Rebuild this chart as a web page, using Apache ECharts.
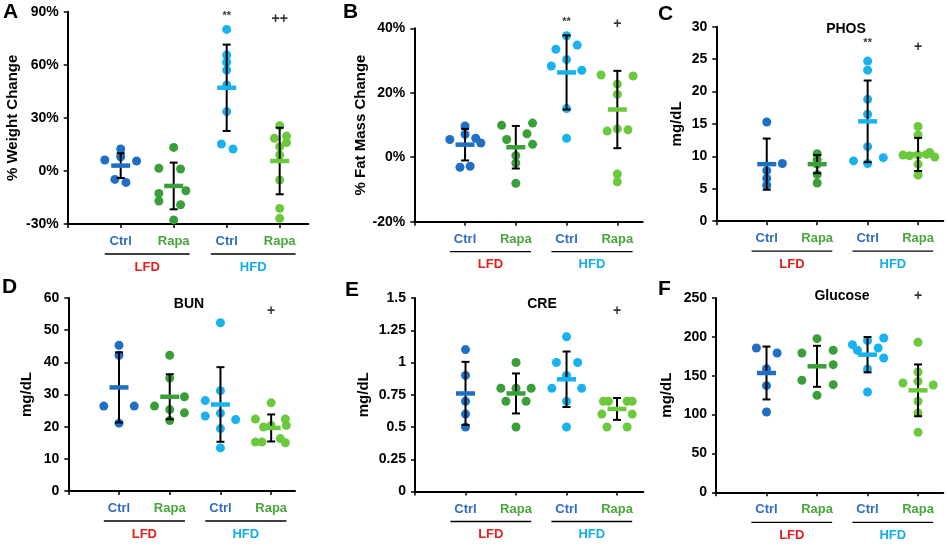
<!DOCTYPE html>
<html>
<head>
<meta charset="utf-8">
<script src="https://cdn.jsdelivr.net/npm/echarts@6/dist/echarts.min.js"></script>
<style>
  html, body { margin: 0; padding: 0; background: #fff; }
  #chart { width: 948px; height: 546px; }
</style>
</head>
<body>
<div id="chart"></div>
<script>
// groups, left to right: LFD Ctrl, LFD Rapa, HFD Ctrl, HFD Rapa
const groupNames = ['Ctrl', 'Rapa', 'Ctrl', 'Rapa'];
const dietNames = ['LFD', 'HFD'];

// A: % weight change  (jitter is the sideways offset of each dot, in category units)
const weightVals = [
  [6.2, 12.4, 5.6, 8, -4.8, -6.5],
  [13.3, 1.5, 1.1, -11.2, -12.7, -17.0, -19.1, -27.7],
  [80.0, 65.5, 61.4, 57, 48.6, 33.5, 15.2, 12.4],
  [25.6, 18.4, 19.7, 16, 13.7, 9, -5.1, -21.2, -26.8]
];
const weightJit = [
  [-0.30, 0, 0.30, 0, -0.11, 0.10],
  [0, -0.28, 0.13, 0.23, -0.28, -0.28, 0.13, 0],
  [0, 0, 0, 0, 0, 0, -0.10, 0.12],
  [0, -0.10, 0.13, 0.13, 0, 0, 0, 0, 0]
];
const weightMean = [3, -8.5, 47, 5.6];
const weightSd = [7, 13.2, 24.4, 18.8];
const weightMarks = [[3, 87.6, '**'], [4, 85.9, '++']];

// B: % fat mass change
const fatVals = [
  [5.5, 9.7, 7.1, 5.9, 4.4, -3.1, -2.8],
  [9.9, 10.6, 7.3, 5.5, 4.0, 0.5, -1.8, -8.1],
  [37.7, 33.5, 34.8, 30.3, 28.3, 27.0, 15.1, 5.9],
  [25.5, 25.2, 22.7, 19.5, 8.1, 8.8, 8.5, -5.2, -7.6]
];
const fatJit = [
  [-0.30, 0, 0, 0.21, 0.31, -0.10, 0.10],
  [-0.28, 0.33, 0.22, -0.18, 0.33, 0, 0, 0],
  [0, -0.21, 0.21, 0, -0.30, 0.30, 0, 0],
  [-0.32, 0.31, 0, 0, -0.20, 0, 0.21, 0, 0]
];
const fatMean = [3.9, 3.1, 26.3, 14.8];
const fatSd = [4.9, 6.6, 11.5, 12.0];
const fatMarks = [[3, 42, '**'], [4, 41.3, '+']];

// C: PHOS
const phosVals = [
  [15.3, 8.9, 7.8, 6.6, 5.5],
  [10.4, 9.5, 8.8, 7.2, 5.9],
  [24.7, 23.3, 18.8, 16.5, 11.5, 9.3, 9.8, 8.9],
  [14.6, 13.3, 10.2, 10.1, 10.2, 10.3, 10.6, 9.9, 8.8, 7.1]
];
const phosJit = [
  [0, 0.31, 0, 0, 0],
  [0, 0, 0, 0, 0],
  [0, 0, 0, 0, 0, -0.28, 0.31, 0],
  [0, 0, -0.30, -0.17, 0, 0.17, 0.23, 0.33, 0, 0]
];
const phosMean = [8.8, 8.8, 15.4, 10.3];
const phosSd = [3.95, 1.4, 6.3, 2.55];
const phosMarks = [[3, 27.5, '**'], [4, 26.9, '+']];

// D: BUN
const bunVals = [
  [45.3, 42.2, 26.4, 26.4, 21.1],
  [42.2, 35.1, 26.4, 29.3, 25.3, 24.3, 21.9],
  [52.3, 31.2, 28.1, 23.3, 24.2, 22.2, 19.4, 13.4],
  [27.4, 22.4, 22.4, 20.4, 19.9, 20.4, 16.3, 15.2, 15.2, 15.0]
];
const bunJit = [
  [0, 0, -0.30, 0.30, 0],
  [0, 0, -0.30, 0.29, 0, 0.29, 0],
  [0, 0, -0.30, -0.30, 0, 0.30, 0, 0],
  [0, -0.31, 0.28, 0, -0.15, 0.30, 0.18, -0.31, -0.18, 0.28]
];
const bunMean = [32.2, 29.3, 26.9, 19.6];
const bunSd = [10.9, 7.0, 11.6, 4.2];
const bunMarks = [[4, 55.9, '+']];

// E: CRE
const creVals = [
  [1.1, 0.9, 0.7, 0.6, 0.5],
  [1.0, 0.8, 0.8, 0.8, 0.7, 0.7, 0.5],
  [1.2, 1.0, 1.0, 0.9, 0.8, 0.8, 0.7, 0.5],
  [0.7, 0.7, 0.7, 0.7, 0.6, 0.6, 0.5, 0.5]
];
const creJit = [
  [0, 0, 0, 0, 0],
  [0, -0.30, 0, 0.30, -0.20, 0.20, 0],
  [0, -0.20, 0.22, 0, -0.29, 0.30, 0, 0],
  [-0.27, -0.17, 0.20, 0.30, -0.30, 0.30, -0.20, 0.20]
];
const creMean = [0.76, 0.76, 0.87, 0.64];
const creSd = [0.245, 0.155, 0.215, 0.085];
const creMarks = [[4, 1.397, '+']];

// F: Glucose
const gluVals = [
  [185.7, 179.2, 159.1, 137.2, 103.3],
  [197.7, 179.2, 182.7, 164.2, 144.1, 138.5, 124.8],
  [190, 182.7, 195.1, 185.7, 198.5, 172.8, 158.7, 129.1],
  [193, 140.7, 138.1, 154.8, 142.8, 117.1, 102.1, 77.2]
];
const gluJit = [
  [-0.20, 0.21, 0, 0, 0],
  [0, -0.30, 0.32, 0.32, -0.30, 0.32, 0],
  [-0.30, -0.20, 0, 0.21, 0.32, 0.32, 0, 0],
  [0, -0.30, 0.30, 0, 0, 0, 0, 0]
];
const gluMean = [153.5, 162.1, 177.1, 131.2];
const gluSd = [34, 26.4, 22.7, 33.3];
const gluMarks = [[4, 253, '+']];

const dotColors = ['#1f6fc5', '#3a9e3a', '#18b2ee', '#6cc83c'];
const labelColors = { Ctrl: '#2e6cc0', Rapa: '#48a63a' };
const dietColors = ['#e3211c', '#13aee8'];
const FONT = '"Liberation Sans", Arial, sans-serif';

const panels = [
  { letter: 'A', at: [3, 2], vals: weightVals, jit: weightJit, mean: weightMean, sd: weightSd, marks: weightMarks,
    min: -30, max: 90, step: 30, pct: true, name: '% Weight Change', nameGap: 47,
    grid: { left: 67.7, top: 11.7, width: 240.6, height: 212.3 }, xMax: 4.54 },
  { letter: 'B', at: [343, 2], vals: fatVals, jit: fatJit, mean: fatMean, sd: fatSd, marks: fatMarks,
    min: -20, max: 40, step: 20, pct: true, name: '% Fat Mass Change', nameGap: 44,
    grid: { left: 414.3, top: 28.3, width: 228.4, height: 193.4 }, xMax: 4.5 },
  { letter: 'C', at: [658, 4], vals: phosVals, jit: phosJit, mean: phosMean, sd: phosSd, marks: phosMarks,
    min: 0, max: 30, step: 5, name: 'mg/dL', nameGap: 32, title: 'PHOS', titleAt: [846, 29],
    grid: { left: 716.3, top: 26.7, width: 227, height: 194.5 }, xMax: 4.5 },
  { letter: 'D', at: [2, 277], vals: bunVals, jit: bunJit, mean: bunMean, sd: bunSd, marks: bunMarks,
    min: 0, max: 60, step: 10, name: 'mg/dL', nameGap: 34, title: 'BUN', titleAt: [189, 304],
    grid: { left: 68.3, top: 298, width: 226.7, height: 193 }, xMax: 4.47 },
  { letter: 'E', at: [345, 280], vals: creVals, jit: creJit, mean: creMean, sd: creSd, marks: creMarks,
    min: 0, max: 1.5, step: 0.25, name: 'mg/dL', nameGap: 44, title: 'CRE', titleAt: [542, 304],
    grid: { left: 415, top: 298, width: 228.3, height: 193.5 }, xMax: 4.52 },
  { letter: 'F', at: [658, 279], vals: gluVals, jit: gluJit, mean: gluMean, sd: gluSd, marks: gluMarks,
    min: 0, max: 250, step: 50, name: 'mg/dL', nameGap: 42, title: 'Glucose', titleAt: [842, 296],
    grid: { left: 716, top: 298, width: 227.3, height: 194.3 }, xMax: 4.5 }
];

const chart = echarts.init(document.getElementById('chart'));

const grids = [], xAxes = [], yAxes = [], series = [];

panels.forEach((p, i) => {
  grids.push(Object.assign({ containLabel: false }, p.grid));

  xAxes.push({
    type: 'value', gridIndex: i, min: 0, max: p.xMax,
    splitLine: { show: false },
    axisLine: { show: true, onZero: false, lineStyle: { color: '#000', width: 2 } },
    axisTick: { show: true, length: 4, customValues: [0, 1, 2, 3, 4], lineStyle: { color: '#000', width: 1.5 } },
    axisLabel: {
      customValues: [1, 2, 3, 4], margin: 11,
      formatter: v => (Math.round(v) % 2 === 1 ? '{c|Ctrl}' : '{r|Rapa}'),
      rich: {
        c: { color: labelColors.Ctrl, fontFamily: FONT, fontWeight: 'bold', fontSize: 13 },
        r: { color: labelColors.Rapa, fontFamily: FONT, fontWeight: 'bold', fontSize: 13 }
      }
    }
  });

  yAxes.push({
    type: 'value', gridIndex: i, min: p.min, max: p.max, interval: p.step,
    splitLine: { show: false },
    axisLine: { show: true, onZero: false, lineStyle: { color: '#000', width: 2 } },
    axisTick: { show: true, length: 4, lineStyle: { color: '#000', width: 1.5 } },
    axisLabel: {
      margin: 9, color: '#000', fontFamily: FONT, fontWeight: 'bold', fontSize: 14,
      formatter: v => (p.pct ? v + '%' : String(v))
    },
    name: p.name, nameLocation: 'middle', nameGap: p.nameGap, nameRotate: 90,
    nameTextStyle: { color: '#000', fontFamily: FONT, fontWeight: 'bold', fontSize: 15 }
  });

  // individual animals
  p.vals.forEach((arr, g) => {
    series.push({
      type: 'scatter', xAxisIndex: i, yAxisIndex: i, z: 2,
      symbol: 'circle', symbolSize: 9,
      itemStyle: { color: dotColors[g], opacity: 1 },
      data: arr.map((v, k) => [g + 1 + p.jit[g][k], v])
    });
  });

  // mean ± SD whiskers
  series.push({
    type: 'custom', xAxisIndex: i, yAxisIndex: i, z: 3,
    data: p.mean.map((m, g) => [g + 1, m - p.sd[g], m + p.sd[g]]),
    renderItem: (params, api) => {
      const lo = api.coord([api.value(0), api.value(1)]);
      const hi = api.coord([api.value(0), api.value(2)]);
      const style = { stroke: '#000', lineWidth: 2 };
      return {
        type: 'group',
        children: [
          { type: 'line', shape: { x1: lo[0], y1: lo[1], x2: hi[0], y2: hi[1] }, style },
          { type: 'line', shape: { x1: lo[0] - 4, y1: lo[1], x2: lo[0] + 4, y2: lo[1] }, style },
          { type: 'line', shape: { x1: hi[0] - 4, y1: hi[1], x2: hi[0] + 4, y2: hi[1] }, style }
        ]
      };
    }
  });

  // mean bars
  series.push({
    type: 'scatter', xAxisIndex: i, yAxisIndex: i, z: 4,
    symbol: 'rect', symbolSize: [19, 4.5],
    data: p.mean.map((m, g) => ({ value: [g + 1, m], itemStyle: { color: dotColors[g], opacity: 1 } }))
  });

  // significance marks
  series.push({
    type: 'scatter', xAxisIndex: i, yAxisIndex: i, z: 5, clip: false,
    symbolSize: 1, itemStyle: { color: 'rgba(0,0,0,0)' },
    label: {
      show: true, position: 'inside',
      formatter: d => d.data.value[2],
      color: '#000', fontFamily: FONT, fontWeight: 'bold'
    },
    data: p.marks.map(m => ({
      value: [m[0], m[1], m[2]],
      label: { fontSize: m[2] === '**' ? 11 : 14 }
    }))
  });
});

chart.setOption({
  animation: false,
  grid: grids,
  xAxis: xAxes,
  yAxis: yAxes,
  series: series
});

// group underlines, diet names, panel letters and titles
const graphics = [];
panels.forEach((p, i) => {
  const axisY = p.grid.top + p.grid.height;
  [[0.7, 2.3], [2.7, 4.3]].forEach((span, d) => {
    const x1 = chart.convertToPixel({ xAxisIndex: i }, span[0]);
    const x2 = chart.convertToPixel({ xAxisIndex: i }, span[1]);
    graphics.push({
      type: 'line', silent: true,
      shape: { x1, y1: axisY + 30, x2, y2: axisY + 30 },
      style: { stroke: '#000', lineWidth: 1.3 }
    });
    graphics.push({
      type: 'text', silent: true, x: (x1 + x2) / 2, y: axisY + 43,
      style: {
        text: dietNames[d], fill: dietColors[d], align: 'center', verticalAlign: 'middle',
        font: 'bold 13px ' + FONT
      }
    });
  });
  graphics.push({
    type: 'text', silent: true, x: p.at[0], y: p.at[1],
    style: { text: p.letter, fill: '#000', font: 'bold 21px ' + FONT, verticalAlign: 'top' }
  });
  if (p.title) {
    graphics.push({
      type: 'text', silent: true, x: p.titleAt[0], y: p.titleAt[1],
      style: { text: p.title, fill: '#000', align: 'center', verticalAlign: 'middle', font: 'bold 14px ' + FONT }
    });
  }
});
chart.setOption({ graphic: graphics });
</script>
</body>
</html>
